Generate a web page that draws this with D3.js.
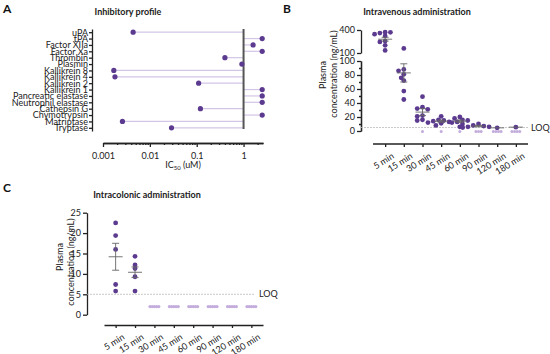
<!DOCTYPE html>
<meta charset="utf-8">
<style>
  body { margin: 0; background: #fff; }
  svg { font-family: Lato, "Open Sans", sans-serif; }
  .axis path, .axis line { stroke: #222; stroke-width: 1.3; }
  .axis text { font-size: 9px; fill: #222; font-family: Lato, sans-serif; }
  .title { font-size: 9px; font-weight: bold; fill: #222; }
  .panel { font-size: 12px; font-weight: bold; fill: #111; }
  .lbl { font-size: 9px; fill: #222; }
</style>
<body>
<div id="chart"></div>
<script src="https://cdnjs.cloudflare.com/ajax/libs/d3/7.8.5/d3.min.js"></script>
<script>
  // ---- data ----
  var enzymes = ["uPA", "tPA", "Factor XIIa", "Factor Xa", "Thrombin", "Plasmin",
    "Kallikrein 8", "Kallikrein 4", "Kallikrein 2", "Kallikrein 1",
    "Pancreatic elastase", "Neutrophil elastase", "Cathepsin G",
    "Chymotrypsin", "Matriptase", "Tryptase"];
  var ic50 = [0.0044, 2.5, 1.6, 2.5, 0.4, 0.92, 0.0017, 0.0018, 0.11, 2.5,
    2.5, 2.5, 0.12, 2.5, 0.0026, 0.029];
  var icTicks = [0.001, 0.01, 0.1, 1];

  var times = ["5 min", "15 min", "30 min", "45 min", "60 min", "90 min", "120 min", "180 min"];

  // intravenous (ng/mL)
  var ivValues = [
    [372, 360, 370, 345, 323, 255, 245, 200, 134],
    [160, 88, 86, 81, 76, 72, 57, 45],
    [49, 34, 32, 31, 22, 21, 16, 15],
    [21, 16, 15, 14, 13, 12, 11, 8],
    [20, 18, 16, 15, 13, 12, 10, 6],
    [10, 8, 7, 6, 6, 5],
    [4.5],
    [5.5]
  ];
  var ivMean = [280, 83, 27, 14, 14, 7, 4.5, 5.5];
  var ivSem = [25, 13, 5, 1.5, 1.6, 1, 0, 0];
  var ivBelowLoq = [0, 0, 1, 1, 1, 3, 4, 4];

  // intracolonic (ng/mL)
  var icValues = [
    [22.5, 19.4, 16, 7.4, 5.8],
    [14.3, 12.2, 11.3, 9.3, 5.8],
    [], [], [], [], [], []
  ];
  var icMean = [14.2, 10.4, null, null, null, null, null, null];
  var icSem = [3.3, 1.3, 0, 0, 0, 0, 0, 0];
  var icBelowLoq = [0, 0, 5, 5, 5, 5, 5, 5];

  var LOQ = 5;

  var dark = "#5b3a8f",
    light = "#d3c5e6",
    lightDot = "#c3acdc";

  var svg = d3.select("#chart").append("svg")
    .attr("width", 550)
    .attr("height", 354);

  // simple beeswarm: offsets so dots don't overlap too much
  function swarm(ys, r) {
    var placed = [];
    return ys.map(function(y) {
      var cands = [0];
      for (var k = 1; k < 8; k++) { cands.push(-k * r * 1.1, k * r * 1.1); }
      for (var c = 0; c < cands.length; c++) {
        var ok = placed.every(function(p) {
          var dx = p[0] - cands[c], dy = p[1] - y;
          return dx * dx + dy * dy >= (2 * r) * (2 * r) * 0.55;
        });
        if (ok) { placed.push([cands[c], y]); return cands[c]; }
      }
      placed.push([0, y]);
      return 0;
    });
  }

  // ================= Panel A =================
  svg.append("text").attr("class", "panel").attr("x", 3).attr("y", 13).text("A");
  svg.append("text").attr("class", "title").attr("x", 128).attr("y", 15)
    .attr("text-anchor", "middle").text("Inhibitory profile");

  var xA = d3.scaleLog().domain([0.001, 2.6]).range([103, 263]);
  var yA = d3.scalePoint().domain(enzymes).range([29, 131]).padding(0.5);

  var gA = svg.append("g");

  // lollipop stems
  gA.selectAll(".stem").data(enzymes).enter().append("line")
    .attr("x1", xA(1))
    .attr("x2", function(d, i) { return xA(ic50[i]); })
    .attr("y1", function(d) { return yA(d); })
    .attr("y2", function(d) { return yA(d); })
    .attr("stroke", light).attr("stroke-width", 1.2);

  // reference line at 1 uM
  gA.append("line")
    .attr("x1", xA(1)).attr("x2", xA(1))
    .attr("y1", 29).attr("y2", 129)
    .attr("stroke", "#555").attr("stroke-width", 2);

  gA.selectAll(".dot").data(enzymes).enter().append("circle")
    .attr("cx", function(d, i) { return xA(ic50[i]); })
    .attr("cy", function(d) { return yA(d); })
    .attr("r", 2.6)
    .attr("fill", dark);

  svg.append("g").attr("class", "axis")
    .attr("transform", "translate(92,0)")
    .call(d3.axisLeft(yA).tickSize(3).tickSizeOuter(0).tickPadding(1));

  var minor = [];
  [0.001, 0.01, 0.1, 1].forEach(function(dec) {
    for (var m = 2; m <= 9; m++) if (dec * m <= 2.6) minor.push(dec * m);
  });
  svg.append("g").attr("class", "axis")
    .attr("transform", "translate(0,143)")
    .call(d3.axisBottom(xA).tickValues(minor).tickSize(2).tickSizeOuter(0).tickFormat(""));
  svg.append("g").attr("class", "axis")
    .attr("transform", "translate(0,143)")
    .call(d3.axisBottom(xA).tickValues(icTicks).tickSize(4).tickSizeOuter(0)
      .tickFormat(function(d) { return String(d); }))
    .selectAll("text").attr("dy", "1.0em");

  var xl = svg.append("text").attr("class", "lbl").attr("x", 183).attr("y", 168)
    .attr("text-anchor", "middle");
  xl.append("tspan").text("IC");
  xl.append("tspan").attr("font-size", "6px").attr("dy", 2).text("50");
  xl.append("tspan").attr("dy", -2).text(" (uM)");

  // ================= Panel B =================
  svg.append("text").attr("class", "panel").attr("x", 283).attr("y", 13).text("B");
  svg.append("text").attr("class", "title").attr("x", 417).attr("y", 15)
    .attr("text-anchor", "middle").text("Intravenous administration");

  var yLow = d3.scaleLinear().domain([0, 100]).range([131, 61]);
  var yHigh = d3.scaleLinear().domain([100, 400]).range([53, 30]);
  function yB(v) { return v > 100 ? yHigh(v) : yLow(v); }
  var xB = d3.scalePoint().domain(times).range([373, 528]).padding(0.65);

  svg.append("g").attr("class", "axis").attr("transform", "translate(361,0)")
    .call(d3.axisLeft(yLow).tickValues([10, 30, 50, 70, 90]).tickSize(2).tickSizeOuter(0).tickFormat(""));
  svg.append("g").attr("class", "axis").attr("transform", "translate(361,0)")
    .call(d3.axisLeft(yLow).tickValues([0, 20, 40, 60, 80, 100]).tickSize(4).tickSizeOuter(0).tickPadding(2));
  svg.append("g").attr("class", "axis").attr("transform", "translate(361,0)")
    .call(d3.axisLeft(yHigh).tickValues([100, 400]).tickSize(4).tickSizeOuter(0).tickPadding(2));

  var gB = svg.append("g");
  // LOQ
  gB.append("line").attr("x1", 361).attr("x2", 528)
    .attr("y1", yLow(LOQ)).attr("y2", yLow(LOQ))
    .attr("stroke", "#bbb").attr("stroke-width", 0.8).attr("stroke-dasharray", "2,1");
  svg.append("text").attr("class", "lbl").attr("x", 531).attr("y", yLow(LOQ) + 3).text("LOQ");

  times.forEach(function(t, i) {
    var cx = xB(t);
    var ys = ivValues[i].map(yB);
    var offs = swarm(ys, 2.4);
    gB.selectAll(".p" + i).data(ivValues[i]).enter().append("circle")
      .attr("cx", function(d, j) { return cx + offs[j]; })
      .attr("cy", function(d, j) { return ys[j]; })
      .attr("r", 2.4).attr("fill", dark);
    // below LOQ
    var n = ivBelowLoq[i];
    for (var k = 0; k < n; k++) {
      gB.append("circle").attr("cx", cx + (k - (n - 1) / 2) * 2.6).attr("cy", yLow(0) + 0.5)
        .attr("r", 1.5).attr("fill", lightDot);
    }
    // mean +/- SEM
    var my = yB(ivMean[i]);
    gB.append("line").attr("x1", cx - 7).attr("x2", cx + 7).attr("y1", my).attr("y2", my)
      .attr("stroke", "#666").attr("stroke-width", 0.9);
    if (ivSem[i] > 0) {
      var t1 = yB(ivMean[i] + ivSem[i]), b1 = yB(ivMean[i] - ivSem[i]);
      gB.append("line").attr("x1", cx).attr("x2", cx).attr("y1", t1).attr("y2", b1)
        .attr("stroke", "#666").attr("stroke-width", 0.9);
      [t1, b1].forEach(function(yy) {
        gB.append("line").attr("x1", cx - 3.5).attr("x2", cx + 3.5).attr("y1", yy).attr("y2", yy)
          .attr("stroke", "#666").attr("stroke-width", 0.9);
      });
    }
  });

  var axB = svg.append("g").attr("class", "axis").attr("transform", "translate(0,144)")
    .call(d3.axisBottom(xB).tickSize(3).tickSizeOuter(0));
  axB.select(".domain").attr("d", "M373,0H528");
  axB.selectAll("text").attr("text-anchor", "end")
    .attr("transform", "translate(3,4) rotate(-32)").attr("dy", "0.6em");

  svg.append("text").attr("class", "lbl").attr("text-anchor", "middle")
    .attr("transform", "translate(326,75) rotate(-90)").text("Plasma");
  svg.append("text").attr("class", "lbl").attr("text-anchor", "middle")
    .attr("transform", "translate(337,74) rotate(-90)").text("concentration  (ng/mL)");

  // ================= Panel C =================
  svg.append("text").attr("class", "panel").attr("x", 3).attr("y", 192).text("C");
  svg.append("text").attr("class", "title").attr("x", 147).attr("y", 198)
    .attr("text-anchor", "middle").text("Intracolonic administration");

  var yC = d3.scaleLinear().domain([0, 25]).range([314.7, 212.7]);
  var xC = d3.scalePoint().domain(times).range([104, 263]).padding(0.6);

  svg.append("g").attr("class", "axis").attr("transform", "translate(87,0)")
    .call(d3.axisLeft(yC).tickValues([0, 5, 10, 15, 20, 25]).tickSize(4).tickSizeOuter(0).tickPadding(2));

  var gC = svg.append("g");
  gC.append("line").attr("x1", 87).attr("x2", 255)
    .attr("y1", yC(LOQ)).attr("y2", yC(LOQ))
    .attr("stroke", "#bbb").attr("stroke-width", 0.8).attr("stroke-dasharray", "2,1");
  svg.append("text").attr("class", "lbl").attr("x", 259).attr("y", yC(LOQ) + 3).text("LOQ");

  times.forEach(function(t, i) {
    var cx = xC(t);
    var ys = icValues[i].map(yC);
    var offs = swarm(ys, 2.4);
    gC.selectAll(".p" + i).data(icValues[i]).enter().append("circle")
      .attr("cx", function(d, j) { return cx + offs[j]; })
      .attr("cy", function(d, j) { return ys[j]; })
      .attr("r", 2.4).attr("fill", dark);
    var n = icBelowLoq[i];
    for (var k = 0; k < n; k++) {
      gC.append("circle").attr("cx", cx + (k - (n - 1) / 2) * 2.2).attr("cy", yC(2))
        .attr("r", 1.6).attr("fill", lightDot);
    }
    if (icMean[i] != null) {
      var my = yC(icMean[i]);
      gC.append("line").attr("x1", cx - 7).attr("x2", cx + 7).attr("y1", my).attr("y2", my)
        .attr("stroke", "#666").attr("stroke-width", 0.9);
      var t1 = yC(icMean[i] + icSem[i]), b1 = yC(icMean[i] - icSem[i]);
      gC.append("line").attr("x1", cx).attr("x2", cx).attr("y1", t1).attr("y2", b1)
        .attr("stroke", "#666").attr("stroke-width", 0.9);
      [t1, b1].forEach(function(yy) {
        gC.append("line").attr("x1", cx - 3.5).attr("x2", cx + 3.5).attr("y1", yy).attr("y2", yy)
          .attr("stroke", "#666").attr("stroke-width", 0.9);
      });
    }
  });

  var axC = svg.append("g").attr("class", "axis").attr("transform", "translate(0,325)")
    .call(d3.axisBottom(xC).tickSize(3).tickSizeOuter(0));
  axC.selectAll("text").attr("text-anchor", "end")
    .attr("transform", "translate(3,4) rotate(-32)").attr("dy", "0.6em");

  svg.append("text").attr("class", "lbl").attr("text-anchor", "middle")
    .attr("transform", "translate(63,257) rotate(-90)").text("Plasma");
  svg.append("text").attr("class", "lbl").attr("text-anchor", "middle")
    .attr("transform", "translate(74,262) rotate(-90)").text("concentration  (ng/mL)");
</script>
</body>
